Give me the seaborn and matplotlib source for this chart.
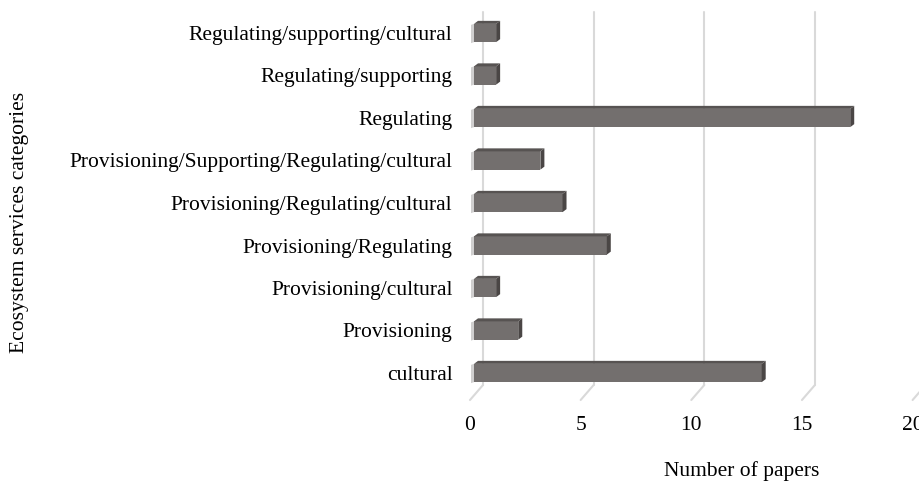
import matplotlib
matplotlib.use("Agg")
import matplotlib.pyplot as plt
import seaborn as sns
import pandas as pd
from matplotlib.transforms import ScaledTranslation
from matplotlib.patches import Polygon
from matplotlib.lines import Line2D

categories = [
    "Regulating/supporting/cultural",
    "Regulating/supporting",
    "Regulating",
    "Provisioning/Supporting/Regulating/cultural",
    "Provisioning/Regulating/cultural",
    "Provisioning/Regulating",
    "Provisioning/cultural",
    "Provisioning",
    "cultural",
]
papers = [1, 1, 17, 3, 4, 6, 1, 2, 13]
xticks = [0, 5, 10, 15, 20]

sns.set_theme(style="white")
plt.rcParams["font.family"] = ["Liberation Serif", "DejaVu Serif"]

DPI = 100
W, H = 920, 484
fig = plt.figure(figsize=(W / DPI, H / DPI), dpi=DPI)

# axes placed in pixel terms (back plane)
x0_px, unit_px = 483, 22.13
top_px, bot_px = 12, 385
ax = fig.add_axes([x0_px / W, (H - bot_px) / H, 20 * unit_px / W, (bot_px - top_px) / H])

df = pd.DataFrame({"cat": categories, "n": papers})
face_col = "#736f6e"
sns.barplot(data=df, y="cat", x="n", orient="h", color=face_col, width=0.43,
            saturation=1, ax=ax, zorder=3)

step = 42.5
first_c = 33
ymin = (first_c - top_px) / step
ax.set_xlim(0, 20)
ax.set_ylim((bot_px - first_c) / step, -ymin)
ax.set_xticks(xticks)
ax.set_xticklabels([str(t) for t in xticks])

for s in ax.spines.values():
    s.set_visible(False)
ax.grid(False)
grid_col = "#d9d9d9"
ylo, yhi = ax.get_ylim()
dxu = -13 / unit_px
dyu = 15 / step
for t in xticks:
    ax.add_line(Line2D([t, t], [yhi, ylo], color=grid_col, lw=1.5, zorder=1, clip_on=False))
    ax.add_line(Line2D([t, t + dxu], [ylo, ylo + dyu], color=grid_col, lw=1.5, zorder=1, clip_on=False))

# 3D embellishment on bars
shift = ScaledTranslation(-9 / DPI, 0, fig.dpi_scale_trans)
ddx, ddy = 4 / unit_px, -3 / step
for p in list(ax.patches):
    p.set_transform(ax.transData + shift)
    p.set_clip_on(False)
    p.set_edgecolor("none")
    x = p.get_x(); w = p.get_width(); y = p.get_y(); h = p.get_height()
    yt, yb = y, y + h
    xl, xr = x, x + w
    top = Polygon([(xl, yt), (xr, yt), (xr + ddx, yt + ddy), (xl + ddx, yt + ddy)],
                  closed=True, facecolor="#575352", edgecolor="none",
                  transform=ax.transData + shift, zorder=3, clip_on=False)
    side = Polygon([(xr, yt), (xr, yb), (xr + ddx, yb + ddy), (xr + ddx, yt + ddy)],
                   closed=True, facecolor="#4a4645", edgecolor="none",
                   transform=ax.transData + shift, zorder=3, clip_on=False)
    left = Polygon([(xl - 3 / unit_px, yt + 1 / step), (xl, yt), (xl, yb), (xl - 3 / unit_px, yb + 1 / step)],
                   closed=True, facecolor="#d0cfcf", edgecolor="none",
                   transform=ax.transData + shift, zorder=2, clip_on=False)
    for poly in (top, side, left):
        ax.add_patch(poly)

fs = 15.5
ax.tick_params(axis="x", length=0, pad=22.5, labelsize=fs, labelcolor="#000000")
ax.tick_params(axis="y", length=0, pad=22, labelsize=fs, labelcolor="#000000")
tshift = ScaledTranslation(-13 / DPI, 0, fig.dpi_scale_trans)
for lab in ax.get_xticklabels():
    lab.set_transform(lab.get_transform() + tshift)

ax.set_xlabel("Number of papers", fontsize=fs, color="#000000")
ax.set_ylabel("Ecosystem services categories", fontsize=fs, color="#000000")
ax.xaxis.set_label_coords((742 - x0_px) / (20 * unit_px), (bot_px - 461) / (bot_px - top_px))
ax.yaxis.set_label_coords((29 - x0_px) / (20 * unit_px), (bot_px - 222) / (bot_px - top_px))

fig.savefig("out.png", dpi=DPI)
